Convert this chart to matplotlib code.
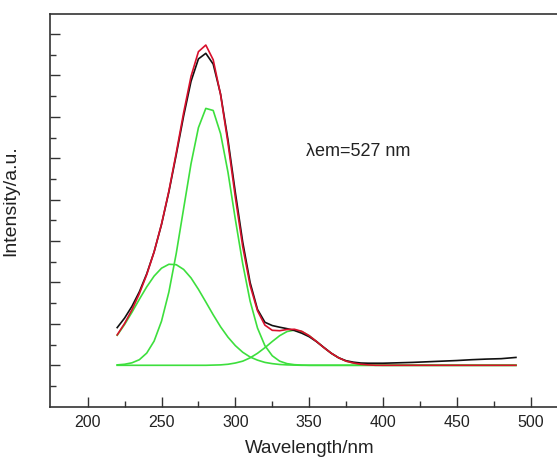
import matplotlib
matplotlib.use("Agg")
import matplotlib.pyplot as plt

plt.rcParams['font.family'] = ['Liberation Sans', 'DejaVu Sans']

# wavelength grid for fitted curves (nm)
wl_fit = list(range(220, 491, 5))

# fitted Gaussian components
comp_main = [0.02, 0.05, 0.12, 0.27, 0.59, 1.17, 2.13, 3.54, 5.41, 7.58,
             9.74, 11.48, 12.41, 12.31, 11.19, 9.33, 7.05, 4.90, 3.10, 1.80,
             0.95, 0.46, 0.20, 0.08, 0.03, 0.01] + [0.0] * 29
comp_left = [1.45, 1.97, 2.56, 3.19, 3.79, 4.31, 4.69, 4.88, 4.86, 4.63,
             4.22, 3.67, 3.06, 2.44, 1.86, 1.36, 0.95, 0.63, 0.40, 0.25,
             0.14, 0.08, 0.04, 0.02, 0.01] + [0.0] * 30
comp_right = [0.0] * 12 + [0.00, 0.01, 0.02, 0.05, 0.11, 0.20, 0.36, 0.58,
                           0.85, 1.15, 1.43, 1.63, 1.70, 1.63, 1.43, 1.15,
                           0.85, 0.58, 0.36, 0.20, 0.11, 0.05, 0.02, 0.01] + [0.0] * 19
fit_sum = [1.47, 2.02, 2.68, 3.46, 4.38, 5.48, 6.82, 8.42, 10.27, 12.21,
           13.96, 15.15, 15.47, 14.76, 13.07, 10.74, 8.11, 5.73, 3.86, 2.63,
           1.94, 1.69, 1.67, 1.73, 1.74, 1.64, 1.43, 1.15, 0.85, 0.58,
           0.36, 0.20, 0.11, 0.05, 0.02] + [0.0] * 20

# measured excitation spectrum
wl_meas = list(range(220, 401, 5)) + list(range(410, 491, 10))
measured = [1.82, 2.28, 2.85, 3.55, 4.42, 5.48, 6.80, 8.38, 10.18, 12.05,
            13.72, 14.80, 15.07, 14.55, 13.10, 10.90, 8.35, 5.95, 4.00, 2.70,
            2.08, 1.92, 1.84, 1.77, 1.68, 1.55, 1.38, 1.14, 0.86, 0.58,
            0.36, 0.22, 0.15, 0.11, 0.10, 0.10, 0.10,
            0.12, 0.14, 0.17, 0.20, 0.23, 0.27, 0.30, 0.32, 0.38]

x_ticks = [200, 250, 300, 350, 400, 450, 500]
x_minor = [225, 275, 325, 375, 425, 475]
y_major = [0, 2, 4, 6, 8, 10, 12, 14, 16]
y_minor = [-1, 1, 3, 5, 7, 9, 11, 13, 15]
annotation = "λem=527 nm"

fig = plt.figure(figsize=(5.57, 4.59), dpi=100)
ax = fig.add_axes([50 / 557, 52.3 / 459, 507 / 557, 392.7 / 459])

green = '#3ddf3d'
red = '#d8102c'
for comp in (comp_main, comp_left, comp_right):
    ax.plot(wl_fit, comp, color=green, lw=1.2, zorder=2)
ax.plot(wl_meas, measured, color='#111111', lw=1.2, zorder=3)
ax.plot(wl_fit, fit_sum, color=red, lw=1.2, zorder=4)

ax.set_xlim(174.5, 517.8)
ax.set_ylim(-2, 16.97)
ax.set_xticks(x_ticks)
ax.set_xticks(x_minor, minor=True)
ax.set_yticks(y_major)
ax.set_yticks(y_minor, minor=True)
ax.set_yticklabels([])
ax.tick_params(which='major', direction='in', length=7, width=1, colors='#333333',
               labelsize=11.5, labelcolor='#222222', pad=6)
ax.tick_params(which='minor', direction='in', length=4, width=1, colors='#333333')
ax.spines['right'].set_visible(False)
for s in ('left', 'bottom', 'top'):
    ax.spines[s].set_color('#333333')
    ax.spines[s].set_linewidth(1.2)

ax.set_xlabel('Wavelength/nm', fontsize=13.5, color='#222222', va='top')
ax.xaxis.set_label_coords(0.513, -0.086)
ax.set_ylabel('Intensity/a.u.', fontsize=14, color='#222222')
ax.yaxis.set_label_coords(-0.061, 0.526)

ax.text(347.8, 10.32, annotation, fontsize=13, ha='left', va='center', color='#222222')

fig.savefig('out.png', dpi=100)
